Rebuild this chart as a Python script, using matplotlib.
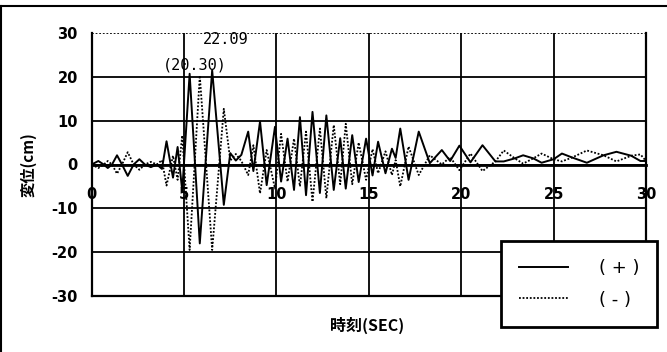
import matplotlib
matplotlib.use("Agg")
import matplotlib.pyplot as plt
from matplotlib.lines import Line2D

# time of each peak / crossing (sec)
t_pts = [0.0, 0.36, 0.65, 0.87, 1.1, 1.37, 1.64, 1.95, 2.27, 2.58, 2.88, 3.2, 3.53,
         3.8, 4.05, 4.4, 4.65, 4.9, 5.3, 5.85, 6.52, 7.15, 7.5, 7.8, 8.1,
         8.47, 8.75, 9.11, 9.47, 9.92, 10.25, 10.6, 10.95, 11.27, 11.6, 11.95,
         12.35, 12.7, 13.1, 13.45, 13.75, 14.1, 14.45, 14.85, 15.2, 15.5, 15.9,
         16.25, 16.45, 16.7, 17.15, 17.7, 18.3, 18.95, 19.4, 19.9, 20.5, 21.15,
         21.85, 22.3, 22.9, 23.35, 23.9, 24.35, 25.0, 25.45, 26.0, 26.8, 27.7,
         28.4, 29.2, 29.7, 30.0]

# displacement (cm), (+) direction run
disp_plus = [0, 0.8, 0, -0.8, 0, 2.1, 0, -2.6, 0, 1.2, 0, -0.6, 0,
             -1.0, 5.3, -3.0, 4.0, -6.0, 20.7, -18.0, 21.5, -9.2, 2.6, 0.9, 2.2,
             7.5, -1.5, 9.8, -4.7, 8.6, -3.9, 5.9, -5.8, 10.8, -7.0, 12.0,
             -6.5, 11.2, -5.8, 6.0, -5.5, 6.7, -4.0, 5.9, -2.5, 5.2, -2.0,
             3.6, 1.5, 8.2, -3.5, 7.5, 0.3, 3.3, 0.8, 4.3, 0.5, 4.4,
             0.7, 0.7, 1.4, 2.1, 1.4, 0.4, 1.2, 2.5, 1.6, 0.4, 2.1,
             2.9, 2.0, 0.8, 0.8]

# displacement (cm), (-) direction run
disp_minus = [0, -0.8, 0, 0.8, 0, -2.1, 0, 2.8, 0, -1.2, 0, 0.6, 0,
              1.0, -4.8, 2.0, -3.5, 6.6, -19.5, 20.3, -19.5, 12.7, 0.9, 2.4, 0.8,
              -2.4, 4.4, -6.6, 3.3, -5.5, 7.0, -3.9, 5.9, -5.0, 7.5, -8.5,
              8.2, -7.7, 9.0, -4.5, 9.3, -4.5, 5.0, -3.5, 3.5, -2.0, 3.0,
              -2.4, 1.0, -5.0, 4.1, -2.4, 2.1, 0.0, 1.7, -1.3, 2.5, -1.5,
              0.7, 3.2, 1.4, 0.2, 1.4, 2.5, 1.2, 0.7, 1.6, 3.2, 2.1,
              0.7, 2.0, 2.3, 0.8]

x_ticks = [0, 5, 10, 15, 20, 25, 30]
y_ticks = [-30, -20, -10, 0, 10, 20, 30]

W, H = 667, 352
fig = plt.figure(figsize=(W / 100, H / 100), dpi=100)
ax = fig.add_axes([91.7 / W, 1 - 296 / H, (646 - 91.7) / W, (296 - 33) / H])

l1, = ax.plot(t_pts, disp_plus, color="black", lw=1.4, label="( + )",
              solid_joinstyle="round")
l2, = ax.plot(t_pts, disp_minus, color="black", lw=1.3, ls=(0, (1, 1)), label="( - )")

ax.set_xlim(0, 30)
ax.set_ylim(-30, 30)
ax.set_xticks(x_ticks)
ax.set_yticks(y_ticks)
ax.set_yticklabels([str(v) for v in y_ticks])

# Excel style: horizontal axis crosses at 0
ax.spines["bottom"].set_position(("data", 0))
ax.spines["bottom"].set_linewidth(2)
ax.spines["top"].set_visible(False)
ax.spines["left"].set_linewidth(1.6)
ax.spines["right"].set_linewidth(1.6)

ax.grid(True, color="black", lw=1.3)
ax.set_axisbelow(True)
for gl in ax.get_ygridlines():
    if gl.get_ydata()[0] == 30:
        gl.set_linestyle((0, (1, 1)))
# bottom edge of the plot area
ax.add_line(Line2D([0, 1], [0, 0], transform=ax.transAxes, color="black",
                   lw=1.6, clip_on=False, zorder=3))

ax.tick_params(axis="y", length=0, pad=10, labelsize=10.5)
ax.tick_params(axis="x", length=0, pad=16, labelsize=10.5)
for lab in ax.get_xticklabels() + ax.get_yticklabels():
    lab.set_fontweight("bold")

mono = "DejaVu Sans Mono"
ax.text(7.27, 28.6, "22.09", ha="center", va="center", family=mono, fontsize=11)
ax.text(5.59, 22.6, "(20.30)", ha="center", va="center", family=mono, fontsize=11)

jp = ["Noto Sans CJK JP", "DejaVu Sans"]
fig.text(28 / W, 1 - 165 / H, "変位(cm)", rotation=90, ha="center", va="center",
         family=jp, fontsize=11, fontweight="bold")
fig.text(367 / W, 1 - 325 / H, "時刻(SEC)", ha="center", va="center",
         family=jp, fontsize=11.5, fontweight="bold")

leg = fig.legend(handles=[l1, l2], loc="upper left",
                 bbox_to_anchor=(501 / W, 1 - 241 / H), borderaxespad=0,
                 fontsize=13, handlelength=2.7, handletextpad=1.7, borderpad=1.0,
                 labelspacing=0.75, fancybox=False, framealpha=1)
leg.get_frame().set_edgecolor("black")
leg.get_frame().set_linewidth(2)

# outer border of the chart area
fig.add_artist(Line2D([0, 1], [1 - 6 / H] * 2, transform=fig.transFigure, color="black", lw=1.5))
fig.add_artist(Line2D([1.5 / W] * 2, [0, 1 - 6 / H], transform=fig.transFigure, color="black", lw=1.5))

fig.savefig("out.png", dpi=100)
